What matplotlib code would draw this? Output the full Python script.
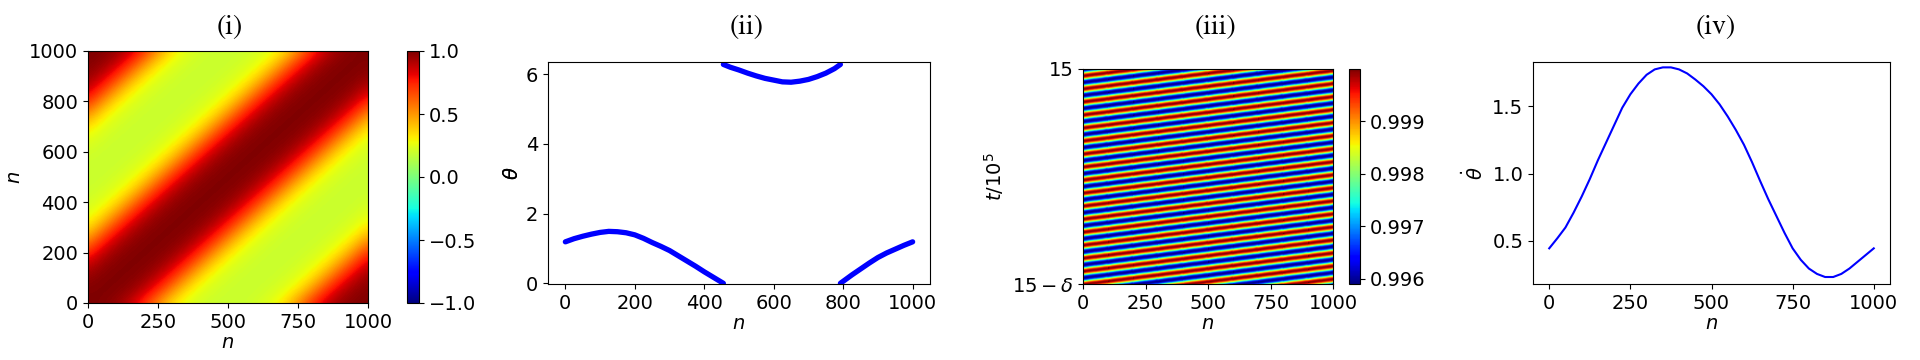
from matplotlib import pyplot as plt
from matplotlib.ticker import FormatStrFormatter
import numpy as np

# (i) correlation vs. periodic index distance |i-j| (step 50)
corr_lag = [0, 50, 100, 150, 200, 250, 300, 350, 400, 450, 500]
corr_val = [1.00, 0.99, 0.96, 0.88, 0.72, 0.52, 0.34, 0.25, 0.21, 0.19, 0.19]
grid_n = [0, 50, 100, 150, 200, 250, 300, 350, 400, 450, 500,
          550, 600, 650, 700, 750, 800, 850, 900, 950, 1000]

# (ii) phase theta(n), three branches between the 2*pi wraps
nA = [0, 25, 50, 75, 100, 125, 150, 175, 200, 225, 250, 275, 300, 325, 350, 375, 400, 425, 455]
thA = [1.19, 1.28, 1.35, 1.41, 1.46, 1.49, 1.48, 1.45, 1.39, 1.29, 1.17, 1.06, 0.94,
       0.79, 0.64, 0.49, 0.33, 0.18, 0.00]
nB = [455, 475, 500, 525, 550, 575, 600, 625, 650, 675, 700, 725, 750, 775, 792]
thB = [6.28, 6.20, 6.12, 6.03, 5.95, 5.88, 5.83, 5.78, 5.77, 5.80, 5.85, 5.93, 6.03, 6.16, 6.28]
nC = [792, 825, 850, 875, 900, 925, 950, 975, 1000]
thC = [0.00, 0.24, 0.41, 0.58, 0.74, 0.87, 0.98, 1.09, 1.19]

# (iii) space-time stripes: one period of the signal and stripe drift (periods) across n
wave_profile = [0.99995, 0.99975, 0.99920, 0.99840, 0.99750, 0.99670, 0.99615,
                0.99595, 0.99615, 0.99670, 0.99750, 0.99840, 0.99920, 0.99975]
shift_n = [0, 100, 200, 300, 400, 500, 600, 700, 800, 900, 1000]
stripe_shift = [0.0, 0.24, 0.48, 0.72, 0.96, 1.2, 1.44, 1.68, 1.92, 2.16, 2.4]
periods_in_window = 16.5

# (iv) frequency theta-dot(n)
n_dot = list(range(0, 1001, 25))
theta_dot = [0.445, 0.52, 0.60, 0.71, 0.83, 0.96, 1.10, 1.23, 1.36, 1.49, 1.59,
             1.67, 1.735, 1.775, 1.79, 1.79, 1.775, 1.745, 1.70, 1.65, 1.59,
             1.515, 1.425, 1.325, 1.215, 1.085, 0.945, 0.81, 0.685, 0.56, 0.445,
             0.36, 0.295, 0.255, 0.232, 0.232, 0.255, 0.295, 0.345, 0.395, 0.445]

plt.rcParams['font.size'] = 14
fig = plt.figure(figsize=(19.2, 3.6), dpi=100)


def box(l, r, t, b):
    return [l/1920, 1 - b/360, (r - l)/1920, (b - t)/360]


# ---- (i)
ax1 = fig.add_axes(box(88, 368, 51, 303))
g = np.array(grid_n)
d = np.abs(g[:, None] - g[None, :])
d = np.minimum(d, 1000 - d)
lag_index = {l: k for k, l in enumerate(corr_lag)}
M = np.vectorize(lambda x: corr_val[lag_index[x]])(d)
im1 = ax1.imshow(M, origin='lower', cmap='jet', vmin=-1, vmax=1,
                 extent=(-25, 1025, -25, 1025), interpolation='bicubic', aspect='auto')
ax1.set_xlim(0, 1000)
ax1.set_ylim(0, 1000)
ax1.set_xticks([0, 250, 500, 750, 1000])
ax1.set_yticks([0, 200, 400, 600, 800, 1000])
ax1.set_xlabel(r'$n$', labelpad=1)
ax1.set_ylabel(r'$n$')
cax1 = fig.add_axes(box(407, 419, 51, 303))
cb1 = fig.colorbar(im1, cax=cax1)
cb1.set_ticks([-1.0, -0.5, 0.0, 0.5, 1.0])
cb1.set_label(r'$\theta$')

# ---- (ii)
ax2 = fig.add_axes(box(548, 930, 62, 284))
for nn, th in [(nA, thA), (nB, thB), (nC, thC)]:
    ax2.plot(nn, th, color='blue', lw=3.8, solid_capstyle='round')
ax2.set_xlim(-50, 1050)
ax2.set_ylim(-0.02, 6.35)
ax2.set_xticks([0, 200, 400, 600, 800, 1000])
ax2.set_yticks([0, 2, 4, 6])
ax2.set_xlabel(r'$n$', labelpad=1)
ax2.set_ylabel(r'$\theta$')

# the colorbar label of (i) and the y label of (ii) sit on the same spot
for axis in (cax1.yaxis, ax2.yaxis):
    axis.set_label_coords(513/1920, 1 - 173/360, transform=fig.transFigure)
    axis.label.set_ha('center')
    axis.label.set_va('center')

# ---- (iii)
ax3 = fig.add_axes(box(1083, 1333, 69, 284))
P = len(wave_profile)
n_periods = 21
rows = P * n_periods
k = np.arange(rows)
C_col = np.tile(wave_profile, n_periods)
X = np.tile(np.array(shift_n, dtype=float), (rows, 1))
Y = (k[:, None] - 3 * P) / (P * periods_in_window) + np.array(stripe_shift)[None, :] / periods_in_window
C = np.tile(C_col[:, None], (1, len(shift_n)))
pm = ax3.pcolormesh(X, Y, C, cmap='jet', vmin=0.9959, vmax=0.99999, shading='gouraud')
ax3.set_xlim(0, 1000)
ax3.set_ylim(0, 1)
ax3.set_xticks([0, 250, 500, 750, 1000])
ax3.set_yticks([0, 1])
ax3.set_yticklabels([r'$15-\delta$', '15'])
ax3.set_xlabel(r'$n$', labelpad=1)
ax3.set_ylabel(r'$t/10^5$')
cax3 = fig.add_axes(box(1349, 1360, 69, 284))
cb3 = fig.colorbar(pm, cax=cax3)
cb3.set_ticks([0.996, 0.997, 0.998, 0.999])
cb3.ax.yaxis.set_major_formatter(FormatStrFormatter('%.3f'))

# ---- (iv)
ax4 = fig.add_axes(box(1533, 1890, 62, 284))
ax4.plot(n_dot, theta_dot, color='blue', lw=1.5)
ax4.set_xlim(-50, 1050)
ax4.set_ylim(0.18, 1.83)
ax4.set_xticks([0, 250, 500, 750, 1000])
ax4.set_yticks([0.5, 1.0, 1.5])
ax4.set_xlabel(r'$n$', labelpad=1)
ax4.set_ylabel(r'$\dot{\theta}$')

for x, s in [(230, '(i)'), (747, '(ii)'), (1215, '(iii)'), (1716, '(iv)')]:
    fig.text(x/1920, 1 - 27/360, s, ha='center', va='center',
             family='STIXGeneral', fontsize=20)

fig.savefig('out.png', dpi=100)
